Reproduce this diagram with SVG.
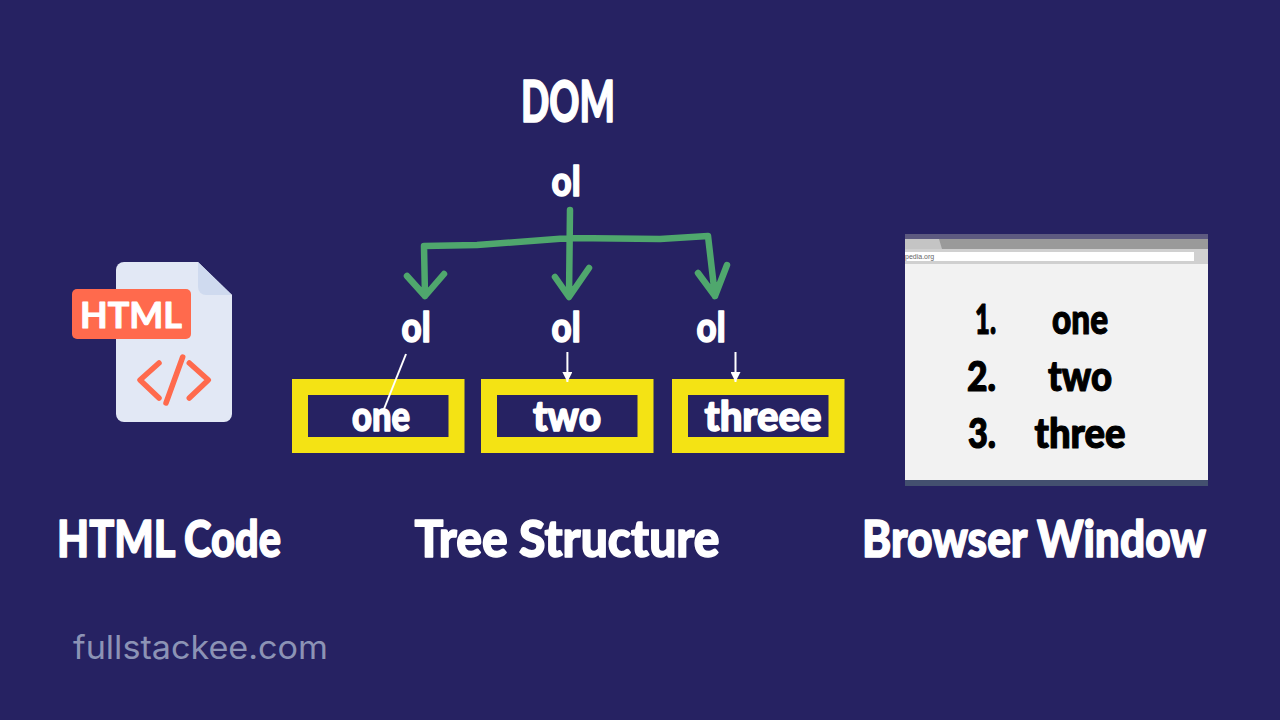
<svg xmlns="http://www.w3.org/2000/svg" width="1280" height="720" viewBox="0 0 1280 720">
<style>
.h{font-family:"Lato","Liberation Sans",sans-serif;font-weight:900;stroke-linejoin:round;stroke-linecap:round}
.w{fill:#fff;stroke:#fff;stroke-width:1.5}
.k{fill:#000;stroke:#000;stroke-width:1.2}
.box{fill:#262262;stroke:#f4e314;stroke-width:16}
.g{fill:none;stroke:#4fa76d;stroke-width:6.500;stroke-linecap:round;stroke-linejoin:round}
.c{fill:none;stroke:#ff6a4d;stroke-width:5.500;stroke-linecap:round;stroke-linejoin:round}
.l{fill:none;stroke:#fff;stroke-width:2}
</style>
<defs><marker id="ah" markerUnits="userSpaceOnUse" markerWidth="11" markerHeight="10" refX="10" refY="5" orient="auto"><path d="M0,0L10,5L0,10Z" fill="#fff"/></marker></defs>
<rect width="1280" height="720" fill="#262262"/>
<g id="html-file">
<path d="M124,262H198L232,295V414a8,8 0 0 1-8,8H124a8,8 0 0 1-8-8V270a8,8 0 0 1 8-8Z" fill="#e2e8f5"/>
<path d="M198,262L232,295H206a8,8 0 0 1-8-8Z" fill="#cfdaef"/>
<rect x="72" y="289" width="119" height="50" rx="5" fill="#ff6a4d"/>
<text class="h" x="131" y="328" font-size="36" text-anchor="middle" textLength="102" lengthAdjust="spacingAndGlyphs" fill="#fff" stroke="#fff" stroke-width="1" style="font-weight:700">HTML</text>
<path class="c" d="M159,363L140,380L159,398M189.300,363L208.300,380L189.300,398M182.700,357L166,403"/>
</g>
<g id="labels">
<text class="h w" x="169" y="557" font-size="52" text-anchor="middle" textLength="224" lengthAdjust="spacingAndGlyphs">HTML Code</text>
<text class="h w" x="567" y="557" font-size="52" text-anchor="middle" textLength="305" lengthAdjust="spacingAndGlyphs">Tree Structure</text>
<text class="h w" x="1034" y="557" font-size="52" text-anchor="middle" textLength="344" lengthAdjust="spacingAndGlyphs">Browser Window</text>
<text x="73" y="659" font-family="Inter,'Liberation Sans',sans-serif" font-size="32" fill="#8c93b5" textLength="255" lengthAdjust="spacingAndGlyphs">fullstackee.com</text>
</g>
<g id="dom-title"><text class="h w" x="568" y="122" font-size="57" text-anchor="middle" textLength="94" lengthAdjust="spacingAndGlyphs">DOM</text></g>
<g id="ol-root"><text class="h w" x="566" y="196" font-size="42" text-anchor="middle" textLength="29" lengthAdjust="spacingAndGlyphs">ol</text></g>
<g id="ol-1"><text class="h w" x="416" y="342" font-size="42" text-anchor="middle" textLength="29" lengthAdjust="spacingAndGlyphs">ol</text></g>
<g id="ol-2"><text class="h w" x="566" y="342" font-size="42" text-anchor="middle" textLength="29" lengthAdjust="spacingAndGlyphs">ol</text></g>
<g id="ol-3"><text class="h w" x="711" y="342" font-size="42" text-anchor="middle" textLength="29" lengthAdjust="spacingAndGlyphs">ol</text></g>
<g id="box-one"><rect class="box" x="300" y="387" width="156.500" height="58"/><text class="h w" x="381" y="431" font-size="42" text-anchor="middle" textLength="58" lengthAdjust="spacingAndGlyphs">one</text></g>
<g id="box-two"><rect class="box" x="489" y="387" width="156.500" height="58"/><text class="h w" x="567" y="431" font-size="42" text-anchor="middle" textLength="68" lengthAdjust="spacingAndGlyphs">two</text></g>
<g id="box-three"><rect class="box" x="680" y="387" width="156.500" height="58"/><text class="h w" x="763" y="431" font-size="42" text-anchor="middle" textLength="117" lengthAdjust="spacingAndGlyphs">threee</text></g>
<g id="connectors">
<path class="g" d="M570,210L569,296M425,296L424,246L477,245L570,238L660,239L708,236L715,296M407,276L425,296L444,274M555,277L569,297L589,268M698,273L715,296L727,265"/>
<path class="l" d="M406,354L382,414"/>
<path class="l" d="M567.400,352V382" marker-end="url(#ah)"/>
<path class="l" d="M735.500,352V382" marker-end="url(#ah)"/>
</g>
<g id="browser">
<rect x="905" y="234" width="303" height="252" fill="#f2f2f2"/>
<rect x="905" y="234" width="303" height="5" fill="#5d5a80"/>
<rect x="905" y="239" width="303" height="10" fill="#9a9a9a"/>
<path d="M905,239H939L942,249H905Z" fill="#c4c4c4"/>
<rect x="905" y="249" width="303" height="15" fill="#d0d0d0"/>
<rect x="905" y="252" width="289" height="9" fill="#fff"/>
<text x="905" y="259" font-family="'Liberation Sans',sans-serif" font-size="7" fill="#666">pedia.org</text>
<rect x="905" y="480" width="303" height="6" fill="#43506f"/>
<text class="h k" x="996" y="334" font-size="41" text-anchor="end" textLength="21" lengthAdjust="spacingAndGlyphs">1.</text>
<text class="h k" x="996" y="391" font-size="41" text-anchor="end" textLength="29" lengthAdjust="spacingAndGlyphs">2.</text>
<text class="h k" x="996" y="448" font-size="41" text-anchor="end" textLength="28" lengthAdjust="spacingAndGlyphs">3.</text>
<text class="h k" x="1080" y="334" font-size="41" text-anchor="middle" textLength="56" lengthAdjust="spacingAndGlyphs">one</text>
<text class="h k" x="1080" y="391" font-size="41" text-anchor="middle" textLength="64" lengthAdjust="spacingAndGlyphs">two</text>
<text class="h k" x="1080" y="448" font-size="41" text-anchor="middle" textLength="91" lengthAdjust="spacingAndGlyphs">three</text>
</g>
</svg>
